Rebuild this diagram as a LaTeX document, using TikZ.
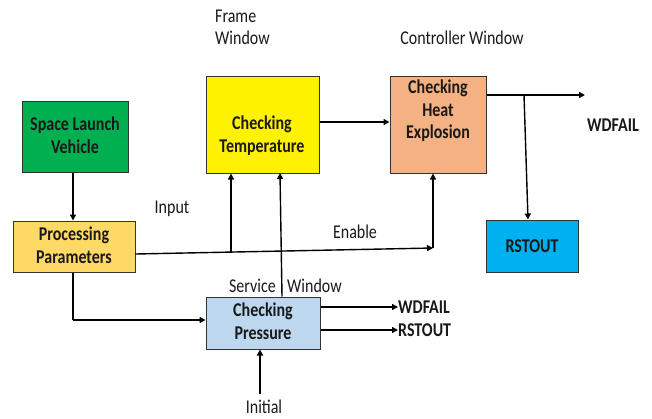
\documentclass[tikz,border=0pt]{standalone}
\usepackage{fontspec}
\usepackage{graphicx}
\setmainfont{Carlito}
\usetikzlibrary{arrows.meta}
\definecolor{slvgreen}{HTML}{00B050}
\definecolor{ppgold}{HTML}{FFD966}
\definecolor{heatorange}{HTML}{F4B183}
\definecolor{rstblue}{HTML}{00B0F0}
\definecolor{presblue}{HTML}{BDD7EE}
% slightly tall lettering
\newcommand{\tl}[1]{\scalebox{1}[1.22]{#1}}
\tikzset{
  blk/.style={draw=black!80, line width=1pt, inner sep=0pt},
  btxt/.style={inner sep=0pt, align=center,
    font=\fontsize{16}{22.5}\selectfont\bfseries, text=black!90},
  lbl/.style={font=\fontsize{16}{22}\selectfont, text=black!90, inner sep=0pt},
  blbl/.style={lbl, font=\fontsize{16}{22}\selectfont\bfseries},
  wire/.style={line width=1.4pt, black},
  arr/.style={wire, -{Triangle[length=6pt,width=6pt]}}
}
\begin{document}
\begin{tikzpicture}[x=1pt,y=-1pt]
\useasboundingbox (0,0) rectangle (652,418);
% blocks
\node[blk, fill=slvgreen, minimum width=106, minimum height=71] (slv) at (75,136.5) {};
\node[blk, fill=ppgold, minimum width=122, minimum height=51] (pp) at (74,246.5) {};
\node[blk, fill=yellow, minimum width=113, minimum height=97] (temp) at (262.5,124.5) {};
\node[blk, fill=heatorange, minimum width=96, minimum height=97] (heat) at (438,124.5) {};
\node[blk, fill=rstblue, minimum width=92, minimum height=52] (rst) at (532,246) {};
\node[blk, fill=presblue, minimum width=114, minimum height=52] (pres) at (263,323) {};
% block texts
\node[btxt] (slvt) at (75,135) {\tl{Space Launch}\\\tl{Vehicle}};
\node[btxt] (ppt) at (74,245) {\tl{Processing}\\\tl{Parameters}};
\node[btxt] (tempt) at (262,135.5) {\tl{Checking}\\\tl{Temperature}};
\node[btxt] (heatt) at (438,111) {\tl{Checking}\\\tl{Heat}\\\tl{Explosion}};
\node[btxt] (rstt) at (532,246) {\tl{RSTOUT}};
\node[btxt] (prest) at (263,321) {\tl{Checking}\\\tl{Pressure}};
% labels
\node[lbl, anchor=west, align=left] (frame) at (215,27) {\tl{Frame}\\\tl{Window}};
\node[lbl] (ctrl) at (462,38) {\tl{Controller Window}};
\node[lbl] (input) at (172,209) {\tl{Input}};
\node[lbl] (enable) at (355,232) {\tl{Enable}};
\node[lbl, anchor=east] (serv) at (276,286) {\tl{Service}};
\node[lbl, anchor=west] (win) at (287,286) {\tl{Window}};
\node[blbl] (wdf) at (613,125) {\tl{WDFAIL}};
\node[blbl, anchor=west] (wdf2) at (398,307) {\tl{WDFAIL}};
\node[blbl, anchor=west] (rso2) at (398,330) {\tl{RSTOUT}};
\node[lbl] (init) at (264,406.5) {\tl{Initial}};
% junction points
\coordinate (en) at (433,248);
\coordinate (tin) at (231,252);
\coordinate (hout) at (585,95);
\coordinate (hj) at (524,95);
\coordinate (ppc) at (73,320);
\coordinate (initup) at (260,394);
% connectors
\draw[arr] (slv.south -| 73,0) -- (pp.north -| 73,0);
\draw[arr] (pp.east |- 0,254) -- (en);
\draw[arr] (en) -- (heat.south -| en);
\draw[arr] (tin) -- (temp.south -| tin);
\draw[arr] (pres.north -| 282,0) -- (280,173);
\draw[arr] (temp.east |- 0,122) -- (heat.west |- 0,122);
\draw[arr] (heat.east |- hout) -- (hout);
\draw[arr] (hj) -- (rst.north -| 528,0);
\draw[wire] (pp.south -| ppc) -- (ppc);
\draw[arr] (ppc) -- (pres.west |- ppc);
\draw[arr] (pres.east |- wdf2) -- (wdf2.west);
\draw[arr] (pres.east |- rso2) -- (rso2.west);
\draw[arr] (initup) -- (pres.south -| initup);
\end{tikzpicture}
\end{document}
